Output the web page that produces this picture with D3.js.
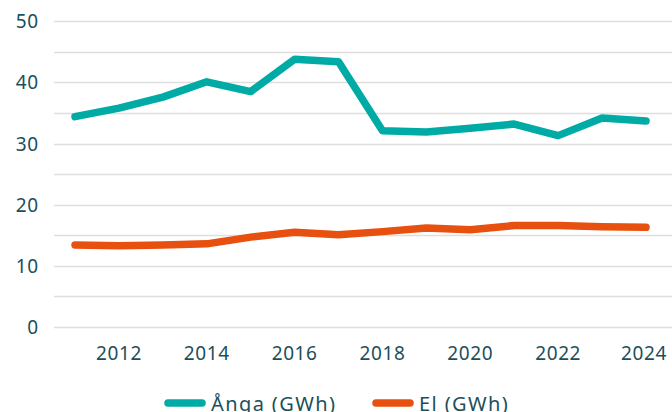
<!DOCTYPE html>
<html>
<head>
<meta charset="utf-8">
<script src="https://cdn.jsdelivr.net/npm/d3@7"></script>
<style>
  body { margin: 0; background: #fff; }
  svg text { font-family: "Noto Sans", sans-serif; fill: #1c4f5c; }
</style>
</head>
<body>
<svg id="chart"></svg>
<script>
// data
var years = [2011, 2012, 2013, 2014, 2015, 2016, 2017, 2018, 2019, 2020, 2021, 2022, 2023, 2024];
var anga = [34.4, 35.8, 37.6, 40.1, 38.5, 43.8, 43.4, 32.1, 31.9, 32.5, 33.2, 31.3, 34.2, 33.7];
var el = [13.4, 13.3, 13.4, 13.6, 14.7, 15.5, 15.1, 15.6, 16.2, 15.9, 16.6, 16.6, 16.4, 16.3];
var seriesNames = ["Ånga (GWh)", "El (GWh)"];
var seriesColors = ["#00aba6", "#e8500f"];
var xTicks = [2012, 2014, 2016, 2018, 2020, 2022, 2024];
var yTicks = [0, 10, 20, 30, 40, 50];

var width = 672, height = 412;
var plotLeft = 54, plotRight = 672, plotTop = 21.3, plotBottom = 327;

var svg = d3.select("#chart")
    .attr("width", width)
    .attr("height", height);

var x = d3.scaleLinear().domain([2011, 2024]).range([75, 646]);
var y = d3.scaleLinear().domain([0, 50]).range([plotBottom, plotTop]);

// gridlines every 5
svg.append("g")
    .selectAll("line")
    .data(d3.range(0, 55, 5))
    .enter()
    .append("line")
    .attr("x1", plotLeft)
    .attr("x2", plotRight)
    .attr("y1", d => Math.round(y(d)) + 0.5)
    .attr("y2", d => Math.round(y(d)) + 0.5)
    .attr("stroke", "#dedede")
    .attr("stroke-width", 1.3);

// y labels
svg.append("g")
    .selectAll("text")
    .data(yTicks)
    .enter()
    .append("text")
    .attr("x", 39)
    .attr("y", d => y(d) + 7)
    .attr("text-anchor", "end")
    .style("font-size", "19px")
    .style("letter-spacing", "0.8px")
    .text(d => d);

// x labels
svg.append("g")
    .selectAll("text")
    .data(xTicks)
    .enter()
    .append("text")
    .attr("x", d => d == 2024 ? x(d) - 2 : x(d))
    .attr("y", 360)
    .attr("text-anchor", "middle")
    .style("font-size", "19px")
    .style("letter-spacing", "0.6px")
    .text(d => d);

var line = d3.line()
    .x((d, i) => x(years[i]))
    .y(d => y(d));

[anga, el].forEach((vals, k) => {
    svg.append("path")
        .datum(vals)
        .attr("d", line)
        .attr("fill", "none")
        .attr("stroke", seriesColors[k])
        .attr("stroke-width", 7.5)
        .attr("stroke-linecap", "round")
        .attr("stroke-linejoin", "round");
});

// legend
var legendX = [168, 376];
var leg = svg.append("g");
seriesNames.forEach((name, k) => {
    leg.append("line")
        .attr("x1", legendX[k])
        .attr("x2", legendX[k] + 34)
        .attr("y1", 403)
        .attr("y2", 403)
        .attr("stroke", seriesColors[k])
        .attr("stroke-width", 7.5)
        .attr("stroke-linecap", "round");
    leg.append("text")
        .attr("x", legendX[k] + 43)
        .attr("y", 411)
        .style("font-size", "20px")
        .style("letter-spacing", "1.4px")
        .text(name);
});
</script>
</body>
</html>
